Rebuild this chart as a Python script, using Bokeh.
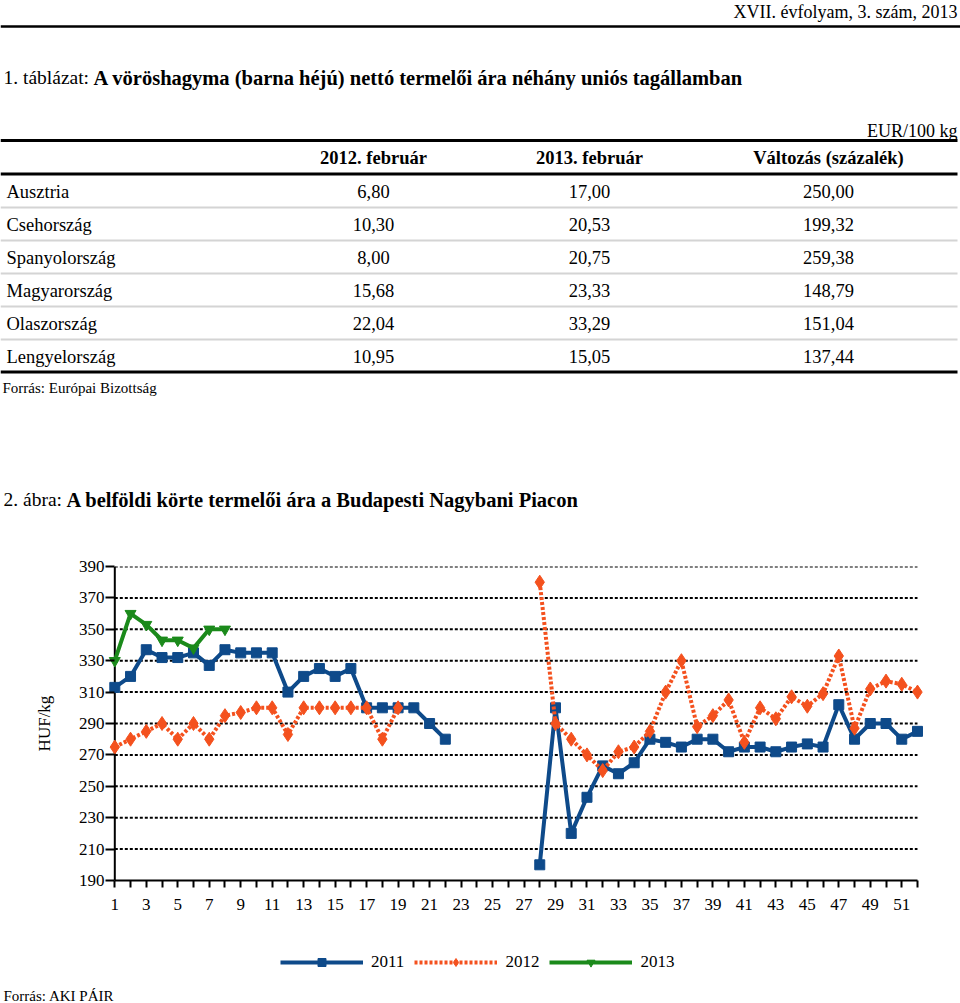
import numpy as np
from bokeh.plotting import figure
from bokeh.models import Range1d, FixedTicker, Span, Legend, LegendItem
from bokeh.core.properties import value
from bokeh.embed import file_html
from bokeh.resources import INLINE

SERIF = "Liberation Serif"
BLUE = "#0E4A8A"
ORANGE = "#F4511E"
GREEN = "#1B8A1B"

# ---------------- data ----------------
header_note = "XVII. évfolyam, 3. szám, 2013"
table_title_prefix = "1. táblázat:"
table_title = "A vöröshagyma (barna héjú) nettó termelői ára néhány uniós tagállamban"
unit_note = "EUR/100 kg"
col_headers = ["2012. február", "2013. február", "Változás (százalék)"]
countries = ["Ausztria", "Csehország", "Spanyolország", "Magyarország", "Olaszország", "Lengyelország"]
price_2012_feb = [6.80, 10.30, 8.00, 15.68, 22.04, 10.95]
price_2013_feb = [17.00, 20.53, 20.75, 23.33, 33.29, 15.05]
change_pct = [250.00, 199.32, 259.38, 148.79, 151.04, 137.44]
table_source = "Forrás: Európai Bizottság"

chart_title_prefix = "2. ábra:"
chart_title = "A belföldi körte termelői ára a Budapesti Nagybani Piacon"
chart_source = "Forrás: AKI PÁIR"
y_label = "HUF/kg"

nan = float("nan")
weeks = list(range(1, 53))
price_2011 = [313, 320, 337, 332, 332, 335, 327, 337, 335, 335, 335, 310, 320, 325, 320, 325,
              300, 300, 300, 300, 290, 280,
              nan, nan, nan, nan, nan,
              200, 300, 220, 243, 263, 258, 265, 280, 278, 275, 280, 280, 272, 275, 275,
              272, 275, 277, 275, 302, 280, 290, 290, 280, 285]
price_2012 = [275, 280, 285, 290, 280, 290, 280, 295, 297, 300, 300, 283, 300, 300, 300, 300,
              300, 280, 300,
              nan, nan, nan, nan, nan, nan, nan, nan,
              380, 290, 280, 270, 260, 272, 275, 285, 310, 330, 288, 295, 305, 278, 300,
              293, 307, 301, 309, 333, 287, 312, 317, 315, 310]
price_2013 = [330, 360, 353, 343, 343, 338, 350, 350]
y_ticks = [190, 210, 230, 250, 270, 290, 310, 330, 350, 370, 390]
series_labels = ["2011", "2012", "2013"]

STYLES = [
    dict(color=BLUE, dash="solid", marker="square", size=10),
    dict(color=ORANGE, dash="3 2", marker="diamond", size=14),
    dict(color=GREEN, dash="solid", marker="inverted_triangle", size=11),
]


def fmt(v):
    return f"{v:.2f}".replace(".", ",")


def txt(p, x, y, s, size, align="left", bold=False):
    p.text(x=[x], y=[y], text=[s], text_font=value(SERIF),
           text_font_size=value(f"{size}px"), text_align=align,
           text_baseline="middle", text_font_style="bold" if bold else "normal",
           text_color="black")


def blank_fig(h, y0, y1):
    f = figure(width=960, height=h, x_range=Range1d(0, 960), y_range=Range1d(y1, y0),
               x_axis_type=None, y_axis_type=None, toolbar_location=None,
               output_backend="svg", min_border=0, outline_line_color=None)
    for g in f.grid:
        g.visible = False
    return f


# ---------------- top part: header + table ----------------
top = blank_fig(540, 0, 540)

txt(top, 957, 11, header_note, 18, align="right")
top.segment(x0=[0], x1=[960], y0=[26], y1=[26], line_color="black", line_width=2.5)

txt(top, 3, 77, table_title_prefix, 19.5)
txt(top, 93, 77, table_title, 20.5, bold=True)

txt(top, 957, 130, unit_note, 18, align="right")
top.segment(x0=[0, 0, 0], x1=[957, 957, 957], y0=[140, 173.5, 371.5], y1=[140, 173.5, 371.5],
            line_color="black", line_width=3)

col_x = [373, 589, 828]
for cx, h in zip(col_x, col_headers):
    txt(top, cx, 157, h, 18.5, align="center", bold=True)

row_y = [191 + 33 * i for i in range(len(countries))]
top.text(x=[6] * len(countries), y=row_y, text=countries, text_font=value(SERIF),
         text_font_size=value("18.5px"), text_baseline="middle", text_align="left",
         text_color="black")
for cx, vals in zip(col_x, [price_2012_feb, price_2013_feb, change_pct]):
    top.text(x=[cx] * len(vals), y=row_y, text=[fmt(v) for v in vals],
             text_font=value(SERIF), text_font_size=value("18.5px"),
             text_baseline="middle", text_align="center", text_color="black")
sep_y = [y + 16 for y in row_y[:-1]]
top.segment(x0=[0] * len(sep_y), x1=[957] * len(sep_y), y0=sep_y, y1=sep_y,
            line_color="#d4d4d4", line_width=2)

txt(top, 2, 387, table_source, 15)

txt(top, 3, 499, chart_title_prefix, 19.5)
txt(top, 66, 499, chart_title, 20.5, bold=True)

# ---------------- chart ----------------
p = figure(width=960, height=400, x_range=Range1d(0.409, 52.636), y_range=Range1d(190, 390),
           toolbar_location=None, output_backend="svg",
           min_border_left=105, min_border_right=33, min_border_top=26, min_border_bottom=60,
           outline_line_color=None)
p.xgrid.visible = False
p.ygrid.visible = False

p.segment(x0=weeks[0], x1=weeks[-1], y0=y_ticks[1:], y1=y_ticks[1:],
          line_color="black", line_dash="3 2", line_width=2)
p.add_layout(Span(location=weeks[0], dimension="height", line_color="black",
                  line_width=2, level="underlay"))

series = [np.array(price_2011, dtype=float), np.array(price_2012, dtype=float),
          np.array(price_2013, dtype=float)]
for ys, st in zip(series, STYLES):
    xs = weeks[:len(ys)]
    p.line(xs, ys, line_color=st["color"], line_width=4, line_dash=st["dash"])
    p.scatter(xs, ys, marker=st["marker"], size=st["size"],
              fill_color=st["color"], line_color=st["color"])

p.xaxis.ticker = FixedTicker(ticks=weeks)
p.xaxis.major_label_overrides = {w: (str(w) if w % 2 == 1 else "") for w in weeks}
p.xaxis.bounds = (weeks[0], weeks[-1])
p.xaxis.axis_line_width = 2
p.xaxis.major_tick_line_width = 2
p.xaxis.major_tick_in = 0
p.xaxis.major_tick_out = 7
p.xaxis.minor_tick_line_color = None
p.xaxis.major_label_standoff = 11
p.xaxis.major_label_text_font = SERIF
p.xaxis.major_label_text_font_size = "17px"
p.xaxis.major_label_text_color = "black"

p.yaxis.ticker = FixedTicker(ticks=y_ticks)
p.yaxis.axis_line_color = None
p.yaxis.major_tick_in = 9
p.yaxis.major_tick_out = 0
p.yaxis.major_tick_line_width = 2
p.yaxis.minor_tick_line_color = None
p.yaxis.major_label_standoff = 1
p.yaxis.major_label_text_font = SERIF
p.yaxis.major_label_text_font_size = "17px"
p.yaxis.major_label_text_color = "black"
p.yaxis.axis_label = y_label
p.yaxis.axis_label_standoff = 22
p.yaxis.axis_label_text_font = SERIF
p.yaxis.axis_label_text_font_size = "17px"
p.yaxis.axis_label_text_font_style = "normal"
p.yaxis.axis_label_text_color = "black"

# ---------------- legend + source (separate strip below the chart) ----------------
# The series are plotted again here, far outside this strip's visible range, only so the
# legend has renderers to draw its line+marker keys from.
bot = blank_fig(63, 940, 1003)
items = []
for lab, ys, st in zip(series_labels, series, STYLES):
    xs = weeks[:len(ys)]
    lr = bot.line(xs, ys, line_color=st["color"], line_width=4, line_dash=st["dash"])
    sr = bot.scatter(xs, ys, marker=st["marker"], size=st["size"],
                     fill_color=st["color"], line_color=st["color"])
    items.append(LegendItem(label=lab, renderers=[lr, sr]))

legend = Legend(items=items, orientation="horizontal", location=(280, 31),
                glyph_width=83, glyph_height=20, label_height=20, label_standoff=8,
                spacing=10, padding=0, margin=0,
                border_line_alpha=0, background_fill_alpha=0,
                label_text_font=SERIF, label_text_font_size="17px",
                label_text_color="black")
bot.add_layout(legend)
txt(bot, 3, 995, chart_source, 15)

open("out.html", "w").write(file_html([top, p, bot], INLINE))
